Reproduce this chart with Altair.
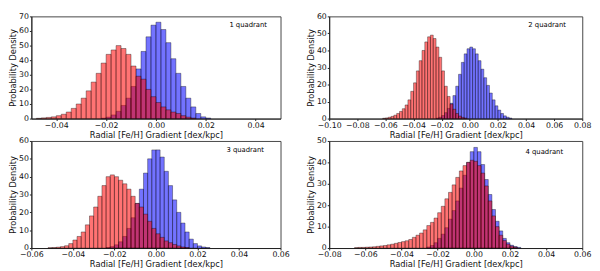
import altair as alt
import pandas as pd

BIN = 0.002
FONT = "DejaVu Sans"
XTITLE = "Radial [Fe/H] Gradient [dex/kpc]"
YTITLE = "Probability Density"

# ---- panel 1 (top-left) ----
p1_blue_first = -0.021
p1_blue = [0.3, 1, 2.5, 5, 9, 14, 22, 34, 46, 56, 64, 66, 61, 52, 41, 31, 22, 14, 8, 3.5, 1.2, 0.4]
p1_red_first = -0.047
p1_red = [0.2, 0.5, 0.8, 1.2, 2, 3, 4.5, 7, 10, 14, 19, 25, 31, 38, 44, 47, 50, 48, 44, 36,
          29, 27, 20, 15, 11, 8, 6, 4.5, 3.5, 2, 1, 0.4]
p1_xticks = [-0.04, -0.02, 0.0, 0.02, 0.04]
p1_xdomain = [-0.05, 0.05]
p1_ymax = 70
p1_label = "1 quadrant"
p1_label_pos = [0.037, 64]

# ---- panel 2 (top-right) ----
p2_blue_first = -0.023
p2_blue = [0.3, 0.8, 1.8, 3.5, 6, 9, 13.5, 19, 26, 33, 38, 41, 42, 41, 38, 34, 29, 24, 19.5,
           15, 11, 7.5, 5, 3, 1.6, 0.8, 0.3]
p2_red_first = -0.061
p2_red = [0.2, 0.4, 0.8, 1.3, 2, 3, 4.2, 5.8, 8, 11, 16, 21, 28, 34, 40, 45, 48, 49, 47, 42,
          36, 28, 19, 13, 8.5, 5.5, 3, 1.5, 0.7, 0.3]
p2_xticks = [-0.10, -0.08, -0.06, -0.04, -0.02, 0.0, 0.02, 0.04, 0.06, 0.08]
p2_xdomain = [-0.10, 0.08]
p2_ymax = 60
p2_label = "2 quadrant"
p2_label_pos = [0.055, 55]

# ---- panel 3 (bottom-left) ----
p3_blue_first = -0.023
p3_blue = [0.3, 0.8, 1.8, 3.5, 6.5, 11, 17, 25, 33, 42, 50, 55, 55, 51, 43, 35, 27, 20, 14,
           9, 5, 2.5, 1.2, 0.6, 0.3]
p3_red_first = -0.051
p3_red = [0.2, 0.3, 0.5, 0.8, 1.3, 2.5, 4.5, 6.5, 9, 13, 18, 23, 29, 35, 40, 41, 40, 38, 36,
          33, 29, 25, 23, 19, 15, 11, 8, 6, 4, 3, 2, 1.2, 0.6, 0.3]
p3_xticks = [-0.06, -0.04, -0.02, 0.0, 0.02, 0.04, 0.06]
p3_xdomain = [-0.06, 0.06]
p3_ymax = 60
p3_label = "3 quadrant"
p3_label_pos = [0.043, 55]

# ---- panel 4 (bottom-right) ----
p4_blue_first = -0.025
p4_blue = [0.5, 1.2, 2.5, 4.5, 6.5, 9.5, 13.5, 17.5, 22, 28, 34, 40, 45, 47, 45, 39, 32, 25,
           18, 12.5, 8, 4.5, 2.5, 1.3, 0.7, 0.3]
p4_red_first = -0.065
p4_red = [0.2, 0.3, 0.3, 0.4, 0.5, 0.6, 0.8, 1, 1.2, 1.5, 1.8, 2.2, 2.6, 3, 3.4, 4, 5, 6, 7,
          8.5, 10.5, 12, 14, 16.5, 19.5, 23, 26, 29.5, 33, 36, 38.5, 40, 41, 40.5, 38.5, 35,
          29, 22, 15, 10, 6, 3.5, 1.8, 0.9, 0.4]
p4_xticks = [-0.08, -0.06, -0.04, -0.02, 0.0, 0.02, 0.04, 0.06]
p4_xdomain = [-0.08, 0.06]
p4_ymax = 50
p4_label = "4 quadrant"
p4_label_pos = [0.039, 45]


def hist_frame(first, values):
    rows = []
    for i, v in enumerate(values):
        c = first + i * BIN
        rows.append({"x0": round(c - BIN / 2, 5), "x1": round(c + BIN / 2, 5), "v": v})
    return pd.DataFrame(rows)


def panel(bfirst, bvals, rfirst, rvals, xdom, xticks, ymax, label, lpos, w, h):
    xs = alt.Scale(domain=xdom, nice=False, zero=False)
    ys = alt.Scale(domain=[0, ymax], nice=False)
    xax = alt.Axis(values=xticks, format=".2f", title=XTITLE, grid=False,
                   tickSize=2, labelPadding=1, titlePadding=1, labelOverlap=False)
    yax = alt.Axis(values=list(range(0, ymax + 1, 10)), format="d", title=YTITLE, grid=False,
                   tickSize=2, labelPadding=1, titlePadding=1, labelOverlap=False)

    def bars(df, color):
        return alt.Chart(df).mark_rect(
            fill=color, fillOpacity=0.55, stroke="black", strokeWidth=0.45, strokeOpacity=0.8
        ).encode(
            x=alt.X("x0:Q", scale=xs, axis=xax),
            x2="x1:Q",
            y=alt.Y("v:Q", scale=ys, axis=yax),
            y2=alt.datum(0),
        )

    blue = bars(hist_frame(bfirst, bvals), "#0000ff")
    red = bars(hist_frame(rfirst, rvals), "#ff0000")
    txt = alt.Chart(pd.DataFrame({"t": [label], "x": [lpos[0]], "y": [lpos[1]]})).mark_text(
        font=FONT, fontSize=7, color="black"
    ).encode(x=alt.X("x:Q", scale=xs, axis=xax), y=alt.Y("y:Q", scale=ys, axis=yax),
             text="t:N")
    return alt.layer(blue, red, txt).properties(width=w, height=h)


c1 = panel(p1_blue_first, p1_blue, p1_red_first, p1_red, p1_xdomain, p1_xticks, p1_ymax,
           p1_label, p1_label_pos, 256, 105)
c2 = panel(p2_blue_first, p2_blue, p2_red_first, p2_red, p2_xdomain, p2_xticks, p2_ymax,
           p2_label, p2_label_pos, 260, 105)
c3 = panel(p3_blue_first, p3_blue, p3_red_first, p3_red, p3_xdomain, p3_xticks, p3_ymax,
           p3_label, p3_label_pos, 256, 110)
c4 = panel(p4_blue_first, p4_blue, p4_red_first, p4_red, p4_xdomain, p4_xticks, p4_ymax,
           p4_label, p4_label_pos, 260, 110)

chart = alt.concat(c1, c2, c3, c4, columns=2, spacing={"row": 23, "column": 50},
                   bounds="flush").properties(padding=0).configure_view(
    stroke="#444", strokeWidth=1
).configure_axis(
    labelFont=FONT, titleFont=FONT, labelFontSize=8, titleFontSize=8.5,
    labelColor="#111", titleColor="#111", titleFontWeight="normal",
    domainColor="#222", tickColor="#222", labelFlush=False, labelOverlap=False
)

chart.save("out.html", embed_options={"renderer": "svg", "actions": False})
